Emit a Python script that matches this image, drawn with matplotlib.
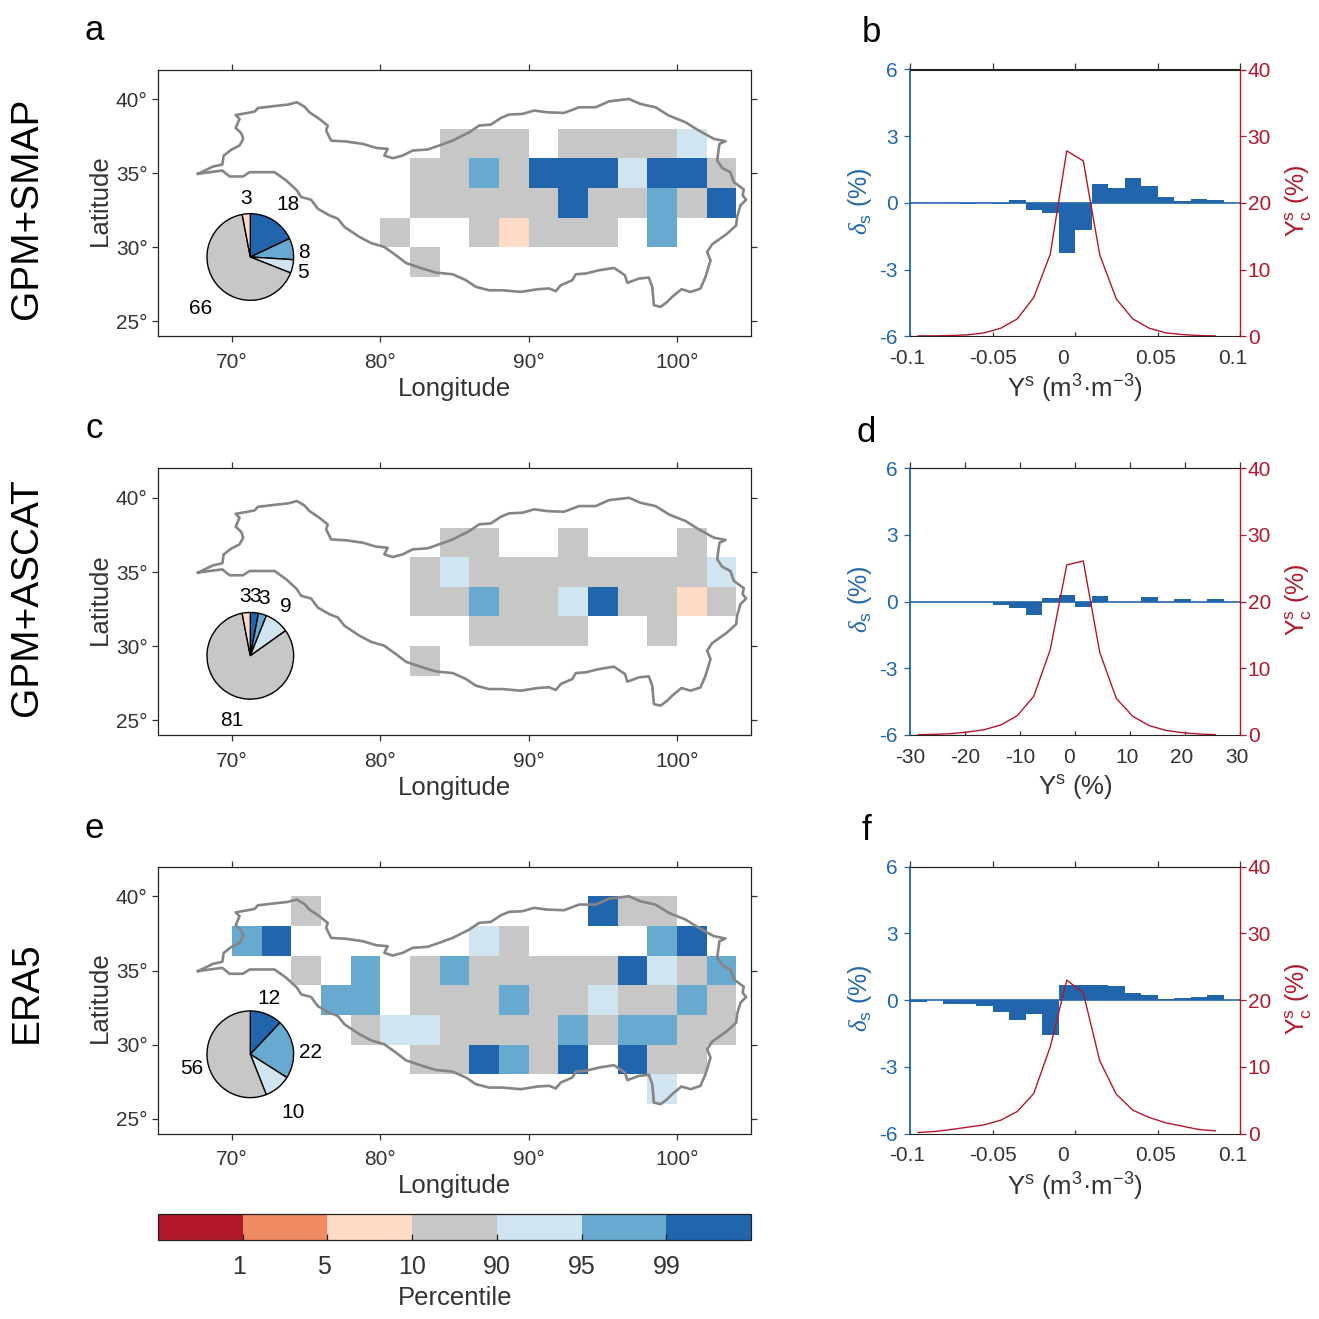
import numpy as np
import matplotlib
matplotlib.use('Agg')
import matplotlib.pyplot as plt
from matplotlib.colors import ListedColormap, BoundaryNorm
from matplotlib.cm import ScalarMappable
from matplotlib.transforms import ScaledTranslation

plt.rcParams['font.family'] = ['Liberation Sans', 'DejaVu Sans']
plt.rcParams['mathtext.fontset'] = 'custom'
plt.rcParams['mathtext.rm'] = 'Liberation Sans'
plt.rcParams['mathtext.it'] = 'Liberation Serif:italic'
plt.rcParams['mathtext.default'] = 'regular'
plt.rcParams['axes.unicode_minus'] = False

# ---- data ----
palette = ['#b2182b', '#ef8a62', '#fddbc7', '#c7c7c7', '#d1e5f0', '#67a9cf', '#2166ac']
percentile_ticks = ['1', '5', '10', '90', '95', '99']

# cell class per 2-degree cell, columns lon 70..104, rows lat 38..26 (top to bottom)
grid_a = ['..................',
          '.......333.33334..',
          '......33536664663.',
          '......' + '33333' + '6' + '33' + '5' + '3' + '6' + '.',
          '.....' + '3' + '..' + '3' + '2' + '333' + '.' + '5' + '...',
          '......3...........',
          '..................']
grid_c = ['..................',
          '.......33..3...3..',
          '......34' + '33333333' + '4.',
          '......33' + '5' + '33' + '4' + '6' + '33' + '2' + '3' + '.',
          '........3333..3...',
          '......3...........',
          '..................']
grid_e = ['..3.........633...',
          '56......43....56..',
          '..3.5.35' + '33333' + '6' + '4' + '3' + '5' + '.',
          '...55.' + '333' + '5' + '33' + '4' + '33' + '5' + '3' + '.',
          '....3' + '44' + '3333' + '5' + '3' + '55' + '33' + '.',
          '......33' + '6' + '5' + '3' + '6' + '.' + '6' + '33' + '..',
          '..............4...']

outline_lon = [67.70,68.15,68.71,69.34,69.43,69.94,70.50,70.75,70.62,70.24,70.50,70.24,70.95,71.52,71.74,72.75,73.76,74.37,74.88,75.22,75.89,76.45,76.34,76.68,77.69,78.81,79.71,80.49,80.27,80.83,81.50,82.18,83.19,83.97,84.87,
               85.99,86.67,87.45,88.13,88.69,89.58,90.37,91.27,92.39,93.40,94.52,95.42,96.77,97.55,98.56,99.46,100.58,101.48,102.49,103.28,102.87,102.72,103.05,103.61,103.84,104.51,104.44,104.67,104.29,104.06,104.00,103.39,102.38,102.04,102.27,101.93,101.59,100.92,100.31,99.69,99.35,98.90,98.45,98.34,98.11,97.44,96.66,96.50,95.76,94.75,93.85,93.18,92.95,92.17,91.83,91.38,90.60,89.47,88.24,87.34,86.44,85.77,
               84.87,83.75,82.85,81.73,81.05,80.27,79.37,78.59,77.58,77.13,76.57,75.78,75.33,74.66,74.37,73.65,72.86,71.18,70.73,69.83,69.34,68.49,67.70]
outline_lat = [34.96,35.18,35.45,35.59,36.19,36.58,36.87,37.32,37.70,38.06,38.66,38.93,39.05,39.16,39.40,39.52,39.63,39.79,39.49,39.11,38.66,38.21,37.88,37.20,37.14,36.98,36.71,36.64,36.19,36.01,36.19,36.53,36.60,36.87,37.20,
               37.76,38.22,38.28,38.73,38.96,39.00,39.23,39.11,39.07,39.45,39.45,39.85,40.01,39.67,39.45,38.89,38.44,37.88,37.32,37.16,36.98,35.86,35.36,35.07,34.40,33.91,33.50,33.21,32.83,32.04,31.48,30.92,30.20,29.69,29.12,28.00,27.21,26.99,27.17,26.66,26.32,25.98,26.09,27.33,27.96,27.89,27.60,28.11,28.61,28.45,28.23,28.18,27.78,27.44,27.04,27.22,27.17,26.99,27.10,27.10,27.33,27.78,
               28.18,28.29,28.56,28.94,29.46,30.02,30.29,30.70,31.37,31.93,32.15,32.60,33.21,33.39,33.84,34.51,35.07,35.07,34.78,34.78,35.18,35.07,34.96]

pie_a = [18, 8, 5, 66, 3]
pie_c = [3, 3, 9, 81, 3]
pie_e = [12, 22, 10, 56]
pie_colors_std = ['#2166ac', '#67a9cf', '#d1e5f0', '#c7c7c7', '#fddbc7']

edges_sm = [-0.10,-0.09,-0.08,-0.07,-0.06,-0.05,-0.04,-0.03,-0.02,-0.01,0.0,0.01,0.02,0.03,0.04,0.05,0.06,0.07,0.08,0.09]
edges_as = [-30,-27,-24,-21,-18,-15,-12,-9,-6,-3,0,3,6,9,12,15,18,21,24,27]
delta_b = [0,0,0,-0.05,0,-0.04,0.13,-0.30,-0.47,-2.25,-1.22,0.83,0.65,1.10,0.75,0.27,0.10,0.17,0.13,0]
delta_d = [0,0,0,0,0,-0.15,-0.27,-0.60,0.17,0.30,-0.22,0.25,0,0,0.20,0,0.10,0,0.10,0]
delta_f = [-0.07,0,-0.17,-0.17,-0.28,-0.52,-0.90,-0.63,-1.58,0.70,0.70,0.70,0.63,0.30,0.25,0.05,0.10,0.13,0.25,0]

centers_sm = [-0.095,-0.085,-0.075,-0.065,-0.055,-0.045,-0.035,-0.025,-0.015,-0.005,0.005,0.015,0.025,0.035,0.045,0.055,0.065,0.075,0.085]
centers_as = [-28.5,-25.5,-22.5,-19.5,-16.5,-13.5,-10.5,-7.5,-4.5,-1.5,1.5,4.5,7.5,10.5,13.5,16.5,19.5,22.5,25.5]
curve_b = [0.05,0.05,0.1,0.2,0.5,1.2,2.6,5.8,12.3,27.8,26.3,12.2,5.6,2.6,1.2,0.5,0.25,0.1,0.05]
curve_d = [0.05,0.1,0.2,0.45,0.8,1.5,2.9,5.8,12.8,25.5,26.1,12.4,5.5,2.8,1.4,0.7,0.35,0.15,0.05]
curve_f = [0.15,0.3,0.6,0.95,1.3,2.0,3.3,6.0,13.0,23.0,21.1,10.9,5.9,3.5,2.4,1.6,1.1,0.6,0.4]

ticks_sm = [-0.1,-0.05,0,0.05,0.1]
labels_sm = ['-0.1','-0.05','0','0.05','0.1']
offs_sm = [-3,0,-12,-2,-7]
ticks_as = [-30,-20,-10,0,10,20,30]
labels_as = ['-30','-20','-10','0','10','20','30']
offs_as = [0,0,0,-6,-3,-3,-3]

# ---- layout helpers ----
W = H = 1319
TXT = '#333333'
RED = '#b2182b'
BLUE = '#2166ac'
AX_H = 266.7
fig = plt.figure(figsize=(W/100, H/100), dpi=100)

def axpx(x0, y0, x1, y1, **kw):
    return fig.add_axes([x0/W, 1-y1/H, (x1-x0)/W, (y1-y0)/H], **kw)

def tpx(x, y, s, **kw):
    kw.setdefault('ha', 'center')
    kw.setdefault('va', 'center')
    return fig.text(x/W, 1-y/H, s, **kw)

cmap = ListedColormap(palette)
norm = BoundaryNorm(np.arange(8)-0.0, 7)

def draw_map(top, grid, pie, pcol, pie_labels):
    ax = axpx(158, top, 751, top+AX_H)
    codes = np.array([[np.nan if c == '.' else float(c) for c in row] for row in grid])
    lon_e = np.arange(70, 108, 2)
    lat_e = np.arange(40, 24, -2)
    ax.pcolormesh(lon_e, lat_e, np.ma.masked_invalid(codes+0.5), cmap=cmap, norm=norm, edgecolors='none')
    ax.plot(outline_lon, outline_lat, color='#858585', lw=1.9, zorder=3)
    ax.set_xlim(65, 105)
    ax.set_ylim(24, 42)
    ax.set_xticks([70, 80, 90, 100])
    ax.set_xticklabels(['70°', '80°', '90°', '100°'])
    ax.set_yticks([25, 30, 35, 40])
    ax.set_yticklabels(['25°', '30°', '35°', '40°'])
    ax.tick_params(direction='out', top=True, right=True, length=4.5, width=0.9, labelsize=15,
                   color='#333333', labelcolor=TXT)
    ax.tick_params(axis='x', pad=7.5)
    ax.tick_params(axis='y', pad=3)
    for s in ax.spines.values():
        s.set_linewidth(0.9)
        s.set_color('#222222')
    ax.set_xlabel('Longitude', fontsize=18.5, color=TXT, va='center')
    ax.xaxis.set_label_coords(0.5, -53/AX_H)
    ax.set_ylabel('Latitude', fontsize=18.5, color=TXT, va='center')
    ax.yaxis.set_label_coords(-58/593, 0.5+3/AX_H)
    pa = axpx(250.3-44.2, top+187.5-44.2, 250.3+44.2, top+187.5+44.2)
    pa.pie(pie, colors=pcol, startangle=90, counterclock=False, radius=1,
           wedgeprops=dict(edgecolor='black', linewidth=1.0))
    pa.set_xlim(-1.02, 1.02)
    pa.set_ylim(-1.02, 1.02)
    for (x, y, s) in pie_labels:
        tpx(x, y+1, s, fontsize=15, color='black')

draw_map(69.5, grid_a, pie_a, pie_colors_std,
         [(245.7,197,'3'),(288,203,'18'),(303.7,251,'8'),(303,271,'5'),(201,307,'66')])
draw_map(468.3, grid_c, pie_c, pie_colors_std,
         [(245.5,596,'3'),(255,596,'3'),(264,597,'3'),(286,605,'9'),(232,720,'81')])
draw_map(866.8, grid_e, pie_e, pie_colors_std[:4],
         [(268.7,997,'12'),(310,1052,'22'),(293,1111,'10'),(191.6,1067,'56')])

def draw_hist(top, edges, delta, centers, curve, xt, xl, xo, xlabel, xlim):
    ax = axpx(910, top, 1240, top+AX_H)
    width = edges[1]-edges[0]
    ax.bar(edges, delta, width=width, align='edge', color=BLUE, edgecolor='none', zorder=2)
    ax.axhline(0, color=BLUE, lw=1.2, zorder=3)
    ax.set_xlim(*xlim)
    ax.set_ylim(-6, 6)
    ax.set_yticks([-6, -3, 0, 3, 6])
    ax.set_yticklabels(['-6', '-3', '0', '3', '6'])
    ax.set_xticks(xt)
    ax.set_xticklabels(xl)
    ax.tick_params(axis='x', direction='in', bottom=True, top=False, length=3, width=0.9, labelsize=15,
                   color='#333333', labelcolor=TXT, pad=9.2)
    sec = ax.secondary_xaxis('top')
    sec.set_xticks(xt)
    sec.tick_params(axis='x', direction='out', length=4, width=0.9, labeltop=False, color='#333333')
    sec.spines['top'].set_color('#222222')
    ax.tick_params(axis='y', direction='out', length=4, width=0.9, labelsize=15,
                   color=BLUE, labelcolor=BLUE, pad=5)
    for lab, off in zip(ax.get_xticklabels(), xo):
        lab.set_transform(lab.get_transform() + ScaledTranslation(off/100, 0, fig.dpi_scale_trans))
    ax.spines['left'].set_color(BLUE)
    ax.spines['left'].set_linewidth(1.3)
    ax.spines['right'].set_visible(False)
    ax.spines['top'].set_color('#222222')
    ax.spines['bottom'].set_color('#222222')
    ax.set_xlabel(xlabel, fontsize=18.5, color=TXT, va='center')
    ax.xaxis.set_label_coords(0.5, -53/AX_H)
    ax.set_ylabel(r'$\mathit{\delta}_{s}$ (%)', fontsize=18, color=BLUE, va='center')
    ax.yaxis.set_label_coords(-50/330, 0.5+2/AX_H)
    a2 = ax.twinx()
    a2.plot(centers, curve, color=RED, lw=1.0)
    a2.set_ylim(0, 40)
    a2.set_yticks([0, 10, 20, 30, 40])
    a2.tick_params(axis='y', direction='out', length=4, width=0.9, labelsize=15,
                   color=RED, labelcolor=RED, pad=1.5)
    for k in ('left', 'top', 'bottom'):
        a2.spines[k].set_visible(False)
    a2.spines['right'].set_color(RED)
    a2.spines['right'].set_linewidth(1.0)
    a2.set_ylabel(r'$Y_{c}^{s}$ (%)', fontsize=18, color=RED, va='center', rotation=90)
    a2.yaxis.set_label_coords(1+59/330, 0.5+2/AX_H)

xl_si = 'Y$^{s}$ (m$^{3}$·m$^{-3}$)'
draw_hist(69.5, edges_sm, delta_b, centers_sm, curve_b, ticks_sm, labels_sm, offs_sm, xl_si, (-0.1, 0.1))
draw_hist(468.3, edges_as, delta_d, centers_as, curve_d, ticks_as, labels_as, offs_as, 'Y$^{s}$ (%)', (-30, 30))
draw_hist(866.8, edges_sm, delta_f, centers_sm, curve_f, ticks_sm, labels_sm, offs_sm, xl_si, (-0.1, 0.1))

# colour bar
cax = axpx(158, 1213.5, 751, 1239.5)
cb = fig.colorbar(ScalarMappable(norm=norm, cmap=cmap), cax=cax, orientation='horizontal',
                  ticks=[1, 2, 3, 4, 5, 6], drawedges=False)
cb.minorticks_off()
cb.ax.set_xticklabels(percentile_ticks)
cb.ax.tick_params(which='major', direction='in', length=4, width=0.9, labelsize=18, color='#222222', labelcolor=TXT, pad=11.5)
cb.outline.set_linewidth(0.9)
cb.outline.set_edgecolor('#222222')
for lab, off in zip(cb.ax.get_xticklabels(), [-3.5, -3.5, 0, 0, 0, 0]):
    lab.set_transform(lab.get_transform() + ScaledTranslation(off/100, 0, fig.dpi_scale_trans))
tpx(455, 1298, 'Percentile', fontsize=18.5, color=TXT)

# panel letters and row names
for (x, y, s) in [(94,30,'a'),(871,33,'b'),(94,429,'c'),(866,432,'d'),(94,828,'e'),(866,831,'f')]:
    tpx(x, y, s, fontsize=25, color='black')
for (y, s) in [(208,'GPM+SMAP'),(597,'GPM+ASCAT'),(992,'ERA5')]:
    tpx(27, y, s, fontsize=28, color='black', rotation=90)

fig.savefig('out.png', dpi=100)
